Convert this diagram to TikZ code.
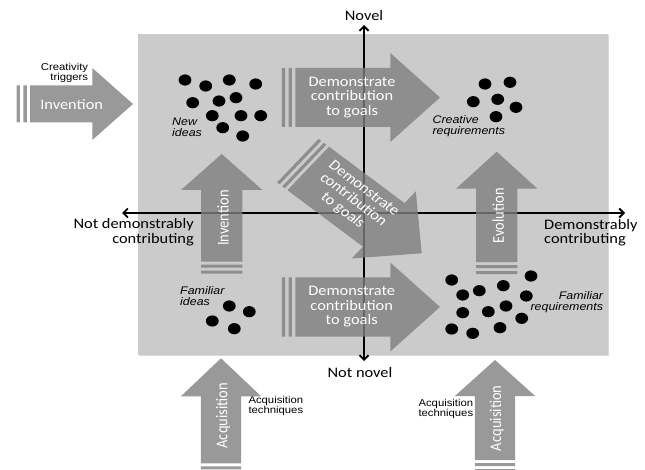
\documentclass[tikz,border=0pt]{standalone}
\usepackage{fontspec}
\setmainfont{Carlito}
\newfontfamily\arialfont{Liberation Sans}
\usetikzlibrary{arrows.meta,shadows}

\definecolor{panelgray}{RGB}{203,203,203}
\definecolor{arrowgray}{RGB}{127,127,127}

\tikzset{
  arr/.style={fill=arrowgray, fill opacity=0.8},
  arrtext/.style={text=white, align=center, inner sep=0pt, xscale=1.13,
    font=\fontsize{14.5}{14.5}\selectfont},
  axlabel/.style={inner sep=0pt, xscale=1.13, font=\fontsize{14.5}{14.5}\selectfont},
  ideanote/.style={inner sep=0pt, xscale=1.13, font=\arialfont\itshape\fontsize{11}{11}\selectfont},
  sourcenote/.style={inner sep=0pt, xscale=1.13, font=\arialfont\fontsize{10}{10}\selectfont},
  axisline/.style={line width=1.8pt,
    {Straight Barb[length=4.5pt,width=9pt]}-{Straight Barb[length=4.5pt,width=9pt]}}
}

% 粗箭头: #1 变换, #2 箭身长, #3 箭头长, #4 箭身半宽, #5 箭头半宽
\newcommand{\fatarrow}[5]{%
  \fill[arr,#1] (0,0) -- (-#3,#5) -- (-#3,#4) -- ({-#3-#2},#4) -- ({-#3-#2},-#4)
      -- (-#3,-#4) -- (-#3,-#5) -- cycle
    ({-#3-#2-3},#4) rectangle ({-#3-#2-6},-#4)
    ({-#3-#2-9},#4) rectangle ({-#3-#2-12},-#4);
}

\begin{document}
\begin{tikzpicture}[x=1pt,y=-1pt]
		\useasboundingbox (0,0) rectangle (645,470);
		\clip (0,0) rectangle (645,470);

		% 灰色底板
		\fill[panelgray, drop shadow={shadow xshift=1.2pt, shadow yshift=-1.2pt, opacity=0.3}]
			(138,34) rectangle (608,355);

		% 坐标轴
		\coordinate (W) at (122,213);   % 左端
		\coordinate (E) at (625,213);   % 右端
		\coordinate (N) at (364,25);    % 上端
		\coordinate (S) at (364,361);   % 下端
		\draw[axisline] (W) -- (E);
		\draw[axisline] (S) -- (N);

		\node[axlabel] (novel) at (364,16) {Novel};
		\node[axlabel] (notnovel) at (360,373) {Not novel};
		\node[axlabel, anchor=east, align=right] (notcontrib) at (194,232) {Not demonstrably\\contributing};
		\node[axlabel, anchor=west, align=left] (contrib) at (544,232.5) {Demonstrably\\contributing};

		% 黑点
		\foreach \p in {(185,80),(205.7,86),(229.3,80),(255.7,84),(192.7,102.7),(219,101),
			(236,97.7),(212.3,115.7),(241,115.7),(260.7,115.7),(222.7,127.7),(242.7,136)}
			\fill \p ellipse (6.4pt and 5.6pt);
		\foreach \p in {(485,84),(510,82.3),(473.3,101.7),(497.7,99.3),(516,107.3),(496,116.7)}
			\fill \p ellipse (6.4pt and 5.6pt);
		\foreach \p in {(229.3,306),(249.3,311.7),(212.3,321),(234.3,328.7)}
			\fill \p ellipse (6.4pt and 5.6pt);
		\foreach \p in {(451.7,280),(479.3,290.7),(503.3,285.7),(531,276),(462.7,295),(526.3,296),
			(462.7,312.7),(488.3,311.7),(506,306),(521.7,318.3),(451.7,329),(472.7,333.3),(500,327.7)}
			\fill \p ellipse (6.4pt and 5.6pt);

		% 说明文字
		\node[ideanote, anchor=west, align=left] (newideas) at (172,127.2) {New\\ideas};
		\node[ideanote, anchor=west, align=left] (creative) at (432.3,126.5) {Creative\\requirements};
		\node[ideanote, anchor=west, align=left] (famideas) at (180,296.3) {Familiar\\ideas};
		\node[ideanote, anchor=east, align=right] (famreq) at (603.3,302.2) {Familiar\\requirements};
		\node[sourcenote, anchor=east, align=right] (triggers) at (88.3,72.5) {Creativity\\triggers};
		\node[sourcenote, anchor=west, align=left] (techleft) at (248.3,405.7) {Acquisition\\techniques};
		\node[sourcenote, anchor=west, align=left] (techright) at (418.3,409) {Acquisition\\techniques};

		% 粗箭头
		\fatarrow{shift={(133,104)}, xscale=1.13}{55}{36}{18.5}{36}
		\fatarrow{shift={(440,97.5)}, xscale=1.13}{84}{44}{29.5}{44.5}
		\fatarrow{shift={(440,307)}, xscale=1.13}{84}{44}{29.5}{44.5}
		\fatarrow{shift={(421.7,253.3)}, xscale=1.13, rotate=-40.2}{87.5}{44}{28.5}{44}
		\fatarrow{shift={(221.7,154)}, xscale=1.13, rotate=90}{71.7}{36}{18.3}{36}
		\fatarrow{shift={(496.7,151.7)}, xscale=1.13, rotate=90}{73.5}{37}{18.3}{36}
		\fatarrow{shift={(221,358.3)}, xscale=1.13, rotate=90}{67}{38}{17.8}{35.5}
		\fatarrow{shift={(495,360)}, xscale=1.13, rotate=90}{64}{36}{17.8}{35.5}

		% 箭头上的文字
		\node[arrtext] (invleft) at (71.7,105) {Invention};
		\node[arrtext] (demtop) at (352,97.3) {Demonstrate\\contribution\\to goals};
		\node[arrtext] (dembottom) at (351.7,307) {Demonstrate\\contribution\\to goals};
		\node[arrtext, rotate=-40.2] (demdiag) at (353,200) {Demonstrate\\contribution\\to goals};
		\node[arrtext, rotate=90] (invup) at (223,218) {Invention};
		\node[arrtext, rotate=90] (evolution) at (498.3,215.8) {Evolution};
		\node[arrtext, rotate=90] (acqleft) at (223,415.8) {Acquisition};
		\node[arrtext, rotate=90] (acqright) at (496.7,418.3) {Acquisition};
	\end{tikzpicture}
\end{document}
